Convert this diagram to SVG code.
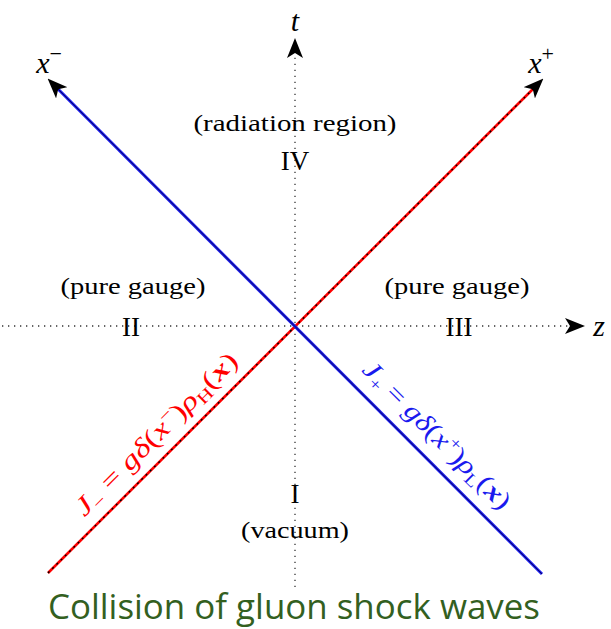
<svg xmlns="http://www.w3.org/2000/svg" width="611" height="629" viewBox="0 0 611 629">
<style>
.serif{font-family:"Liberation Serif","DejaVu Serif",serif;fill:#000}
.lbl{font-size:24px;text-anchor:middle}
.num{font-size:27px;text-anchor:middle}
.it{font-style:italic}
.axis{stroke:#333;stroke-width:1.3;stroke-dasharray:1.3 4.7;fill:none}
</style>
<defs>
<marker id="arr" viewBox="0 0 20 16" refX="18" refY="8" markerWidth="20" markerHeight="16" markerUnits="userSpaceOnUse" orient="auto">
<path d="M0,0 L20,8 L0,16 L5,8 Z" fill="#000"/>
</marker>
</defs>
<rect width="611" height="629" fill="#fff"/>
<g id="connectors">
<line class="axis" x1="295" y1="587" x2="295" y2="45"/>
<path d="M295,58 L295,40" stroke="none" fill="none" marker-end="url(#arr)"/>
<line class="axis" x1="2" y1="326" x2="570" y2="326"/>
<path d="M565,326 L583,326" stroke="none" fill="none" marker-end="url(#arr)"/>
<line x1="48" y1="573" x2="536" y2="86" stroke="#ff0000" stroke-width="2.6"/>
<line x1="48" y1="573" x2="536" y2="86" stroke="#000" stroke-width="1.4" stroke-dasharray="2 4"/>
<path d="M528,94 L542,80" stroke="none" fill="none" marker-end="url(#arr)"/>
<line x1="542" y1="574" x2="55" y2="86" stroke="#1a1aee" stroke-width="3"/>
<line x1="542" y1="574" x2="55" y2="86" stroke="#000" stroke-width="0.6"/>
<path d="M63,94 L49,80" stroke="none" fill="none" marker-end="url(#arr)"/>
</g>
<g id="axis-labels">
<text class="serif it" x="295" y="31" font-size="30" text-anchor="middle">t</text>
<text class="serif it" x="599" y="336" font-size="30" text-anchor="middle">z</text>
<text class="serif" x="49" y="73" font-size="30" text-anchor="middle"><tspan class="it">x</tspan><tspan font-size="22" dy="-12">−</tspan></text>
<text class="serif" x="541" y="73" font-size="30" text-anchor="middle"><tspan class="it">x</tspan><tspan font-size="22" dy="-12">+</tspan></text>
</g>
<g id="region-IV">
<text class="serif lbl" x="295" y="131" textLength="203" lengthAdjust="spacingAndGlyphs">(radiation region)</text>
<text class="serif num" x="295" y="170">IV</text>
</g>
<g id="region-II">
<text class="serif lbl" x="133" y="294" textLength="145" lengthAdjust="spacingAndGlyphs">(pure gauge)</text>
<text class="serif num" x="131" y="336">II</text>
</g>
<g id="region-III">
<text class="serif lbl" x="457" y="294" textLength="145" lengthAdjust="spacingAndGlyphs">(pure gauge)</text>
<text class="serif num" x="459" y="336">III</text>
</g>
<g id="region-I">
<text class="serif num" x="295" y="503">I</text>
<text class="serif lbl" x="295" y="538" textLength="108" lengthAdjust="spacingAndGlyphs">(vacuum)</text>
</g>
<g id="label-red">
<text class="serif" font-size="26" style="fill:#ff0000" text-anchor="middle" textLength="219" lengthAdjust="spacingAndGlyphs" transform="translate(162,440) rotate(-45)"><tspan class="it">J</tspan><tspan font-size="17" dy="5">−</tspan><tspan dy="-5"> = </tspan><tspan class="it">gδ</tspan><tspan>(</tspan><tspan class="it">x</tspan><tspan font-size="17" dy="-10">−</tspan><tspan dy="10">)</tspan><tspan class="it">ρ</tspan><tspan font-size="17" dy="5">H</tspan><tspan dy="-5">(</tspan><tspan font-weight="bold" class="it">x</tspan><tspan>)</tspan></text>
</g>
<g id="label-blue">
<text class="serif" font-size="26" style="fill:#1a1aee" text-anchor="middle" textLength="198" lengthAdjust="spacingAndGlyphs" transform="translate(431,441) rotate(45)"><tspan class="it">J</tspan><tspan font-size="17" dy="5">+</tspan><tspan dy="-5"> = </tspan><tspan class="it">gδ</tspan><tspan>(</tspan><tspan class="it">x</tspan><tspan font-size="17" dy="-10">+</tspan><tspan dy="10">)</tspan><tspan class="it">ρ</tspan><tspan font-size="17" dy="5">L</tspan><tspan dy="-5">(</tspan><tspan font-weight="bold" class="it">x</tspan><tspan>)</tspan></text>
</g>
<g id="title">
<text x="294" y="619" font-family="'Open Sans','Noto Sans',sans-serif" font-size="34" fill="#33601f" text-anchor="middle" textLength="492" lengthAdjust="spacingAndGlyphs">Collision of gluon shock waves</text>
</g>
</svg>
